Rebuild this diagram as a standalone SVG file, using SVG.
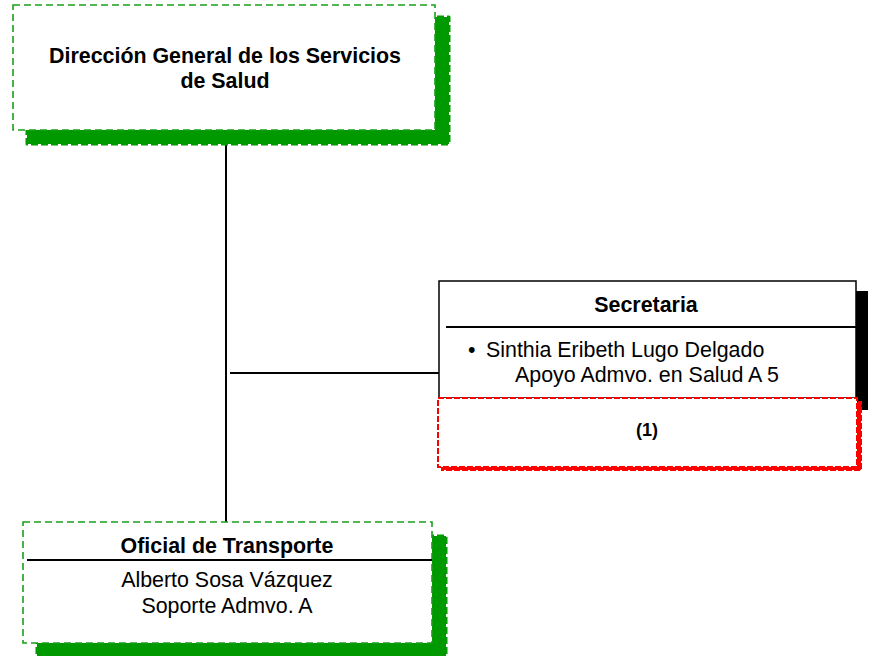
<svg xmlns="http://www.w3.org/2000/svg" width="875" height="656" viewBox="0 0 875 656">
<style>
text{font-family:"Liberation Sans",Arial,sans-serif;font-size:21.4px;fill:#000}
.b{font-weight:bold}
.gshadow{fill:#009900;stroke:#009900;stroke-width:3;stroke-dasharray:7 3;stroke-linejoin:round}
.gbox{fill:#fff;stroke:#1a9e1a;stroke-width:1.6;stroke-dasharray:7 4}
.line{stroke:#000;stroke-width:2;fill:none}
</style>
<rect width="875" height="656" fill="#fff"/>
<g id="connectors">
<line class="line" x1="226" y1="145" x2="226" y2="522"/>
<line class="line" x1="230" y1="373" x2="439" y2="373"/>
</g>
<g id="direccion">
<rect class="gshadow" x="27" y="17" width="422" height="127"/>
<rect class="gbox" x="13" y="5" width="422" height="125"/>
<text class="b" x="225" y="63" text-anchor="middle">Dirección General de los Servicios</text>
<text class="b" x="225" y="88" text-anchor="middle">de Salud</text>
</g>
<g id="secretaria">
<rect x="451" y="291" width="417" height="119" fill="#000"/>
<rect x="439" y="281" width="417" height="117" fill="#fff" stroke="#000" stroke-width="1.5"/>
<line x1="446" y1="327" x2="856" y2="327" stroke="#000" stroke-width="2"/>
<text class="b" x="646" y="312" text-anchor="middle">Secretaria</text>
<text x="468" y="357">•</text>
<text x="486" y="357">Sinthia Eribeth Lugo Delgado</text>
<text x="515" y="382">Apoyo Admvo. en Salud A 5</text>
</g>
<g id="nota">
<rect x="442" y="402" width="419" height="68" fill="#ff0000" stroke="#ff0000" stroke-width="2" stroke-dasharray="6 2"/>
<rect x="438" y="398" width="419" height="69" fill="#fff" stroke="#ff0000" stroke-width="2" stroke-dasharray="6 2"/>
<text class="b" x="647" y="436" text-anchor="middle" style="font-size:18px">(1)</text>
</g>
<g id="transporte">
<rect class="gshadow" x="37" y="536" width="409" height="140"/>
<rect class="gbox" x="23" y="522" width="409" height="121"/>
<line x1="27" y1="560" x2="432" y2="560" stroke="#000" stroke-width="2"/>
<text class="b" x="227" y="553" text-anchor="middle">Oficial de Transporte</text>
<text x="227" y="587" text-anchor="middle">Alberto Sosa Vázquez</text>
<text x="227" y="613" text-anchor="middle">Soporte Admvo. A</text>
</g>
</svg>
